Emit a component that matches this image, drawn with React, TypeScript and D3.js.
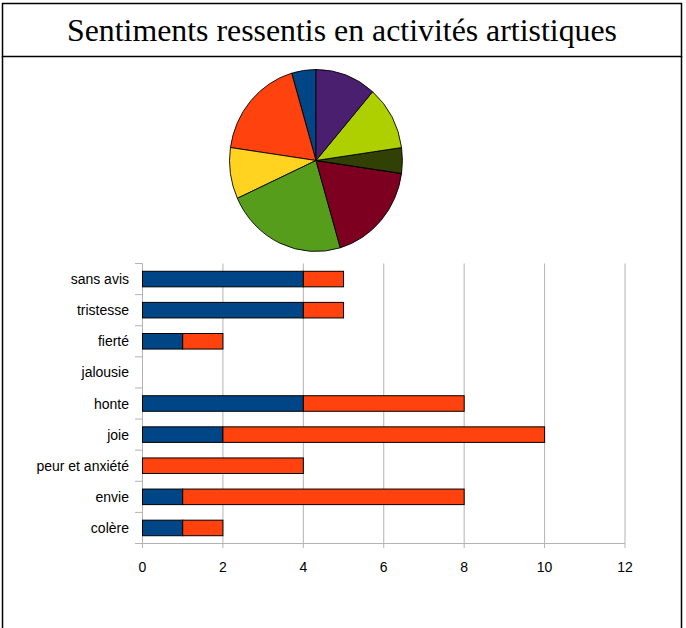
import React from "react";
import * as d3 from "d3";

const title = "Sentiments ressentis en activités artistiques";
const categories = ["sans avis", "tristesse", "fierté", "jalousie", "honte", "joie", "peur et anxiété", "envie", "colère"];
const seriesA = [4, 4, 1, 0, 4, 2, 0, 1, 1];
const seriesB = [1, 1, 1, 0, 4, 8, 4, 7, 1];
const xTicks = [0, 2, 4, 6, 8, 10, 12];
// pie: totals per category, in LibreOffice order (first = colère)
const pieCategories = ["colère", "envie", "peur et anxiété", "joie", "honte", "jalousie", "fierté", "tristesse", "sans avis"];
const pieValues = [2, 8, 4, 10, 8, 0, 2, 5, 5];
const pieColors = ["#004586", "#ff420e", "#ffd320", "#579d1c", "#7e0021", "#83caff", "#314004", "#aecf00", "#4b1f6f"];
const barColors = ["#004586", "#ff420e"];

export default function App() {
  const W = 686, H = 628;
  const x = d3.scaleLinear().domain([0, 12]).range([142.5, 625]);
  const y = d3.scaleBand().domain(categories).range([263.5, 543.5]).paddingInner(0.5).paddingOuter(0.25);
  const band = d3.scaleBand().domain(categories).range([263.5, 543.5]);
  const pie = d3.pie<number>().sort(null).startAngle(0).endAngle(-2 * Math.PI);
  const arcs = pie(pieValues);
  const arc = d3.arc<d3.PieArcDatum<number>>().innerRadius(0).outerRadius(91);
  const font = "'Liberation Sans', Arial, sans-serif";
  const grid = "#b3b3b3";
  return (
    <svg width={W} height={H} style={{ position: "absolute", left: 0, top: 0, background: "#fff" }}>
      {/* frame */}
      <rect x={2.5} y={3.5} width={679} height={53} fill="none" stroke="#000" strokeWidth={1.5} />
      <line x1={2.5} y1={56} x2={2.5} y2={628} stroke="#000" strokeWidth={1.5} />
      <line x1={681.5} y1={56} x2={681.5} y2={628} stroke="#000" strokeWidth={1.5} />
      <text x={342} y={41} textAnchor="middle" fontFamily="'Liberation Serif', 'Times New Roman', serif" fontSize={31} textLength={550} lengthAdjust="spacingAndGlyphs">{title}</text>
      {/* pie */}
      <g transform="translate(316,160.5) scale(0.95,1)">
        {arcs.map((a, i) => (
          <path key={i} d={arc(a) || ""} fill={pieColors[i]} stroke="#000" strokeWidth={0.9} />
        ))}
      </g>
      {/* grid */}
      {xTicks.map((t) => (
        <g key={t}>
          <line x1={x(t)} x2={x(t)} y1={263.5} y2={548} stroke={grid} strokeWidth={1} />
          <text x={x(t)} y={572} textAnchor="middle" fontFamily={font} fontSize={14}>{t}</text>
        </g>
      ))}
      <line x1={135} x2={625} y1={543.5} y2={543.5} stroke={grid} strokeWidth={1} />
      {categories.map((c, i) => (
        <line key={"t" + i} x1={135} x2={142.5} y1={band(c)!} y2={band(c)!} stroke={grid} strokeWidth={1} />
      ))}
      <line x1={135} x2={142.5} y1={543.5} y2={543.5} stroke={grid} />
      {/* bars */}
      {categories.map((c, i) => {
        const a = seriesA[i], b = seriesB[i];
        const yy = y(c)!, h = y.bandwidth();
        return (
          <g key={c}>
            {a > 0 && <rect x={x(0)} y={yy} width={x(a) - x(0)} height={h} fill={barColors[0]} stroke="#000" strokeWidth={1} />}
            {b > 0 && <rect x={x(a)} y={yy} width={x(a + b) - x(a)} height={h} fill={barColors[1]} stroke="#000" strokeWidth={1} />}
            <text x={129} y={band(c)! + band.bandwidth() / 2 + 5} textAnchor="end" fontFamily={font} fontSize={14}>{c}</text>
          </g>
        );
      })}
    </svg>
  );
}
